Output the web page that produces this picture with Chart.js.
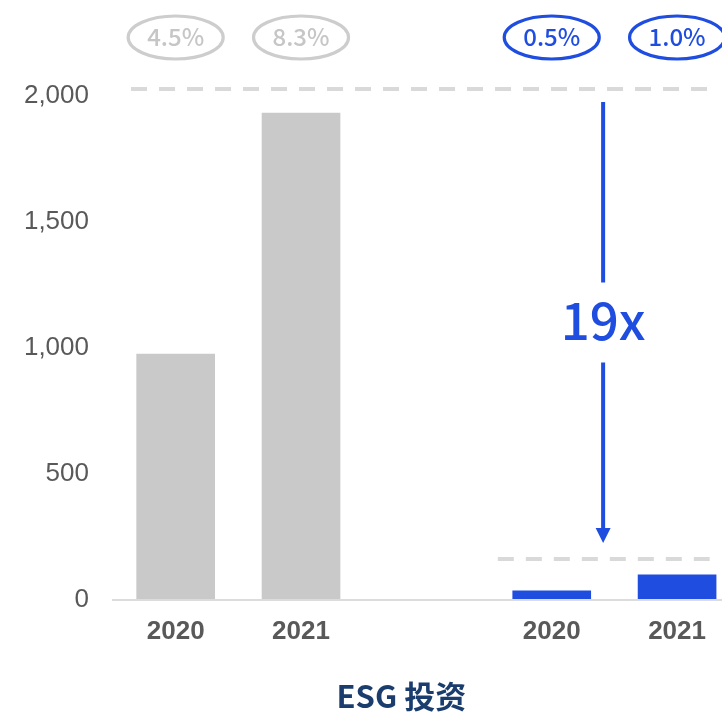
<!DOCTYPE html>
<html>
<head>
<meta charset="utf-8">
<script src="https://cdn.jsdelivr.net/npm/chart.js@4/dist/chart.umd.min.js"></script>
<style>
    html, body { margin: 0; padding: 0; background: #fff; }
    #wrap { width: 722px; height: 713px; }
</style>
</head>
<body>
<div id="wrap"><canvas id="inversion"></canvas></div>
<script>
var categories = ['2020', '2021', '', '2020', '2021'];
var totalSlots = [0, 1];
var esgSlots = [3, 4];
var totalValues = [976, 1932];
var esgValues = [36, 100];
var totalShares = ['4.5%', '8.3%'];
var esgShares = ['0.5%', '1.0%'];
var yTicks = [0, 500, 1000, 1500, 2000];
var multiple = '19x';
var caption = 'ESG 投资';
// dashed reference levels the arrow runs between
var refHigh = 2028;
var refLow = 163;

var GRAY = '#c9c9c9';
var BLUE = '#1f4de0';

function toPoints(slots, values) {
    return slots.map(function(s, i) { return { x: s, y: values[i] }; });
}

function dashed(ctx, x1, x2, y) {
    ctx.beginPath();
    ctx.moveTo(x1, y);
    ctx.lineTo(x2, y);
    ctx.stroke();
}

function bubble(ctx, cx, cy, text, color, textColor) {
    ctx.beginPath();
    ctx.ellipse(cx, cy, 47.5, 21.5, 0, 0, Math.PI * 2);
    ctx.lineWidth = 3.2;
    ctx.strokeStyle = color;
    ctx.stroke();
    ctx.fillStyle = textColor;
    ctx.font = '500 24px "Noto Sans CJK SC"';
    ctx.textAlign = 'center';
    ctx.textBaseline = 'alphabetic';
    ctx.fillText(text, cx, cy + 8.5);
}

var decorations = {
    id: 'decorations',
    afterDraw: function(chart) {
        var ctx = chart.ctx;
        var x = chart.scales.x;
        var y = chart.scales.y;
        var yHigh = y.getPixelForValue(refHigh);
        var yLow = y.getPixelForValue(refLow);

        ctx.save();
        ctx.setLineDash([16, 12]);
        ctx.lineWidth = 4;
        ctx.strokeStyle = '#d9d9d9';
        dashed(ctx, x.getPixelForValue(-0.356), x.getPixelForValue(4.245), yHigh);
        dashed(ctx, x.getPixelForValue(2.57), x.getPixelForValue(4.26), yLow);
        ctx.setLineDash([]);

        totalSlots.forEach(function(s, i) {
            bubble(ctx, x.getPixelForValue(s), 37.5, totalShares[i], '#cdcdcd', '#c6c6c6');
        });
        esgSlots.forEach(function(s, i) {
            bubble(ctx, x.getPixelForValue(s), 37.5, esgShares[i], BLUE, BLUE);
        });

        // arrow from the high level down to the low one, broken by the label
        var ax = x.getPixelForValue(3.41);
        var top = yHigh + 13;
        var tip = yLow - 16;
        var mid = (top + tip) / 2;
        ctx.strokeStyle = BLUE;
        ctx.fillStyle = BLUE;
        ctx.lineWidth = 4;
        ctx.beginPath();
        ctx.moveTo(ax, top);
        ctx.lineTo(ax, mid - 40);
        ctx.moveTo(ax, mid + 40);
        ctx.lineTo(ax, tip - 14);
        ctx.stroke();
        ctx.beginPath();
        ctx.moveTo(ax - 7.5, tip - 15);
        ctx.lineTo(ax + 7.5, tip - 15);
        ctx.lineTo(ax, tip);
        ctx.closePath();
        ctx.fill();

        ctx.font = '500 51px "Noto Sans CJK SC"';
        ctx.textAlign = 'center';
        ctx.textBaseline = 'alphabetic';
        ctx.fillText(multiple, ax, mid + 18);

        ctx.fillStyle = '#1a3d6e';
        ctx.font = 'bold 31px "Noto Sans CJK SC"';
        ctx.fillText(caption, x.getPixelForValue(1.8), 708);
        ctx.restore();
    }
};

new Chart(document.getElementById('inversion'), {
    type: 'bar',
    data: {
        datasets: [{
            label: '投资',
            data: toPoints(totalSlots, totalValues),
            backgroundColor: GRAY,
            barThickness: 78,
            grouped: false
        }, {
            label: caption,
            data: toPoints(esgSlots, esgValues),
            backgroundColor: BLUE,
            barThickness: 78,
            grouped: false
        }]
    },
    options: {
        responsive: true,
        maintainAspectRatio: false,
        animation: false,
        layout: { padding: { top: 96, right: 0, bottom: 0, left: 0 } },
        plugins: {
            legend: { display: false },
            tooltip: { enabled: false }
        },
        scales: {
            x: {
                type: 'linear',
                min: -0.5,
                max: 4.357,
                offset: false,
                grid: { display: false, drawTicks: false, offset: false },
                border: { display: true, color: '#dcdcdc', width: 2, z: 1 },
                afterBuildTicks: function(scale) {
                    scale.ticks = totalSlots.concat(esgSlots).map(function(v) { return { value: v }; });
                },
                afterFit: function(scale) { scale.height = 113; },
                ticks: {
                    autoSkip: false,
                    maxRotation: 0,
                    padding: 16,
                    color: '#595959',
                    font: { family: '"Liberation Sans", Arial', size: 26, weight: 'bold' },
                    callback: function(v) { return categories[v]; }
                }
            },
            y: {
                min: 0,
                max: 2000,
                grid: { display: false, drawTicks: false },
                border: { display: false },
                afterBuildTicks: function(scale) {
                    scale.ticks = yTicks.map(function(v) { return { value: v }; });
                },
                afterFit: function(scale) { scale.width = 113; },
                ticks: {
                    padding: 24,
                    color: '#595959',
                    font: { family: '"Liberation Sans", Arial', size: 26 },
                    callback: function(v) { return v.toLocaleString('en-US'); }
                }
            }
        }
    },
    plugins: [decorations]
});
</script>
</body>
</html>
